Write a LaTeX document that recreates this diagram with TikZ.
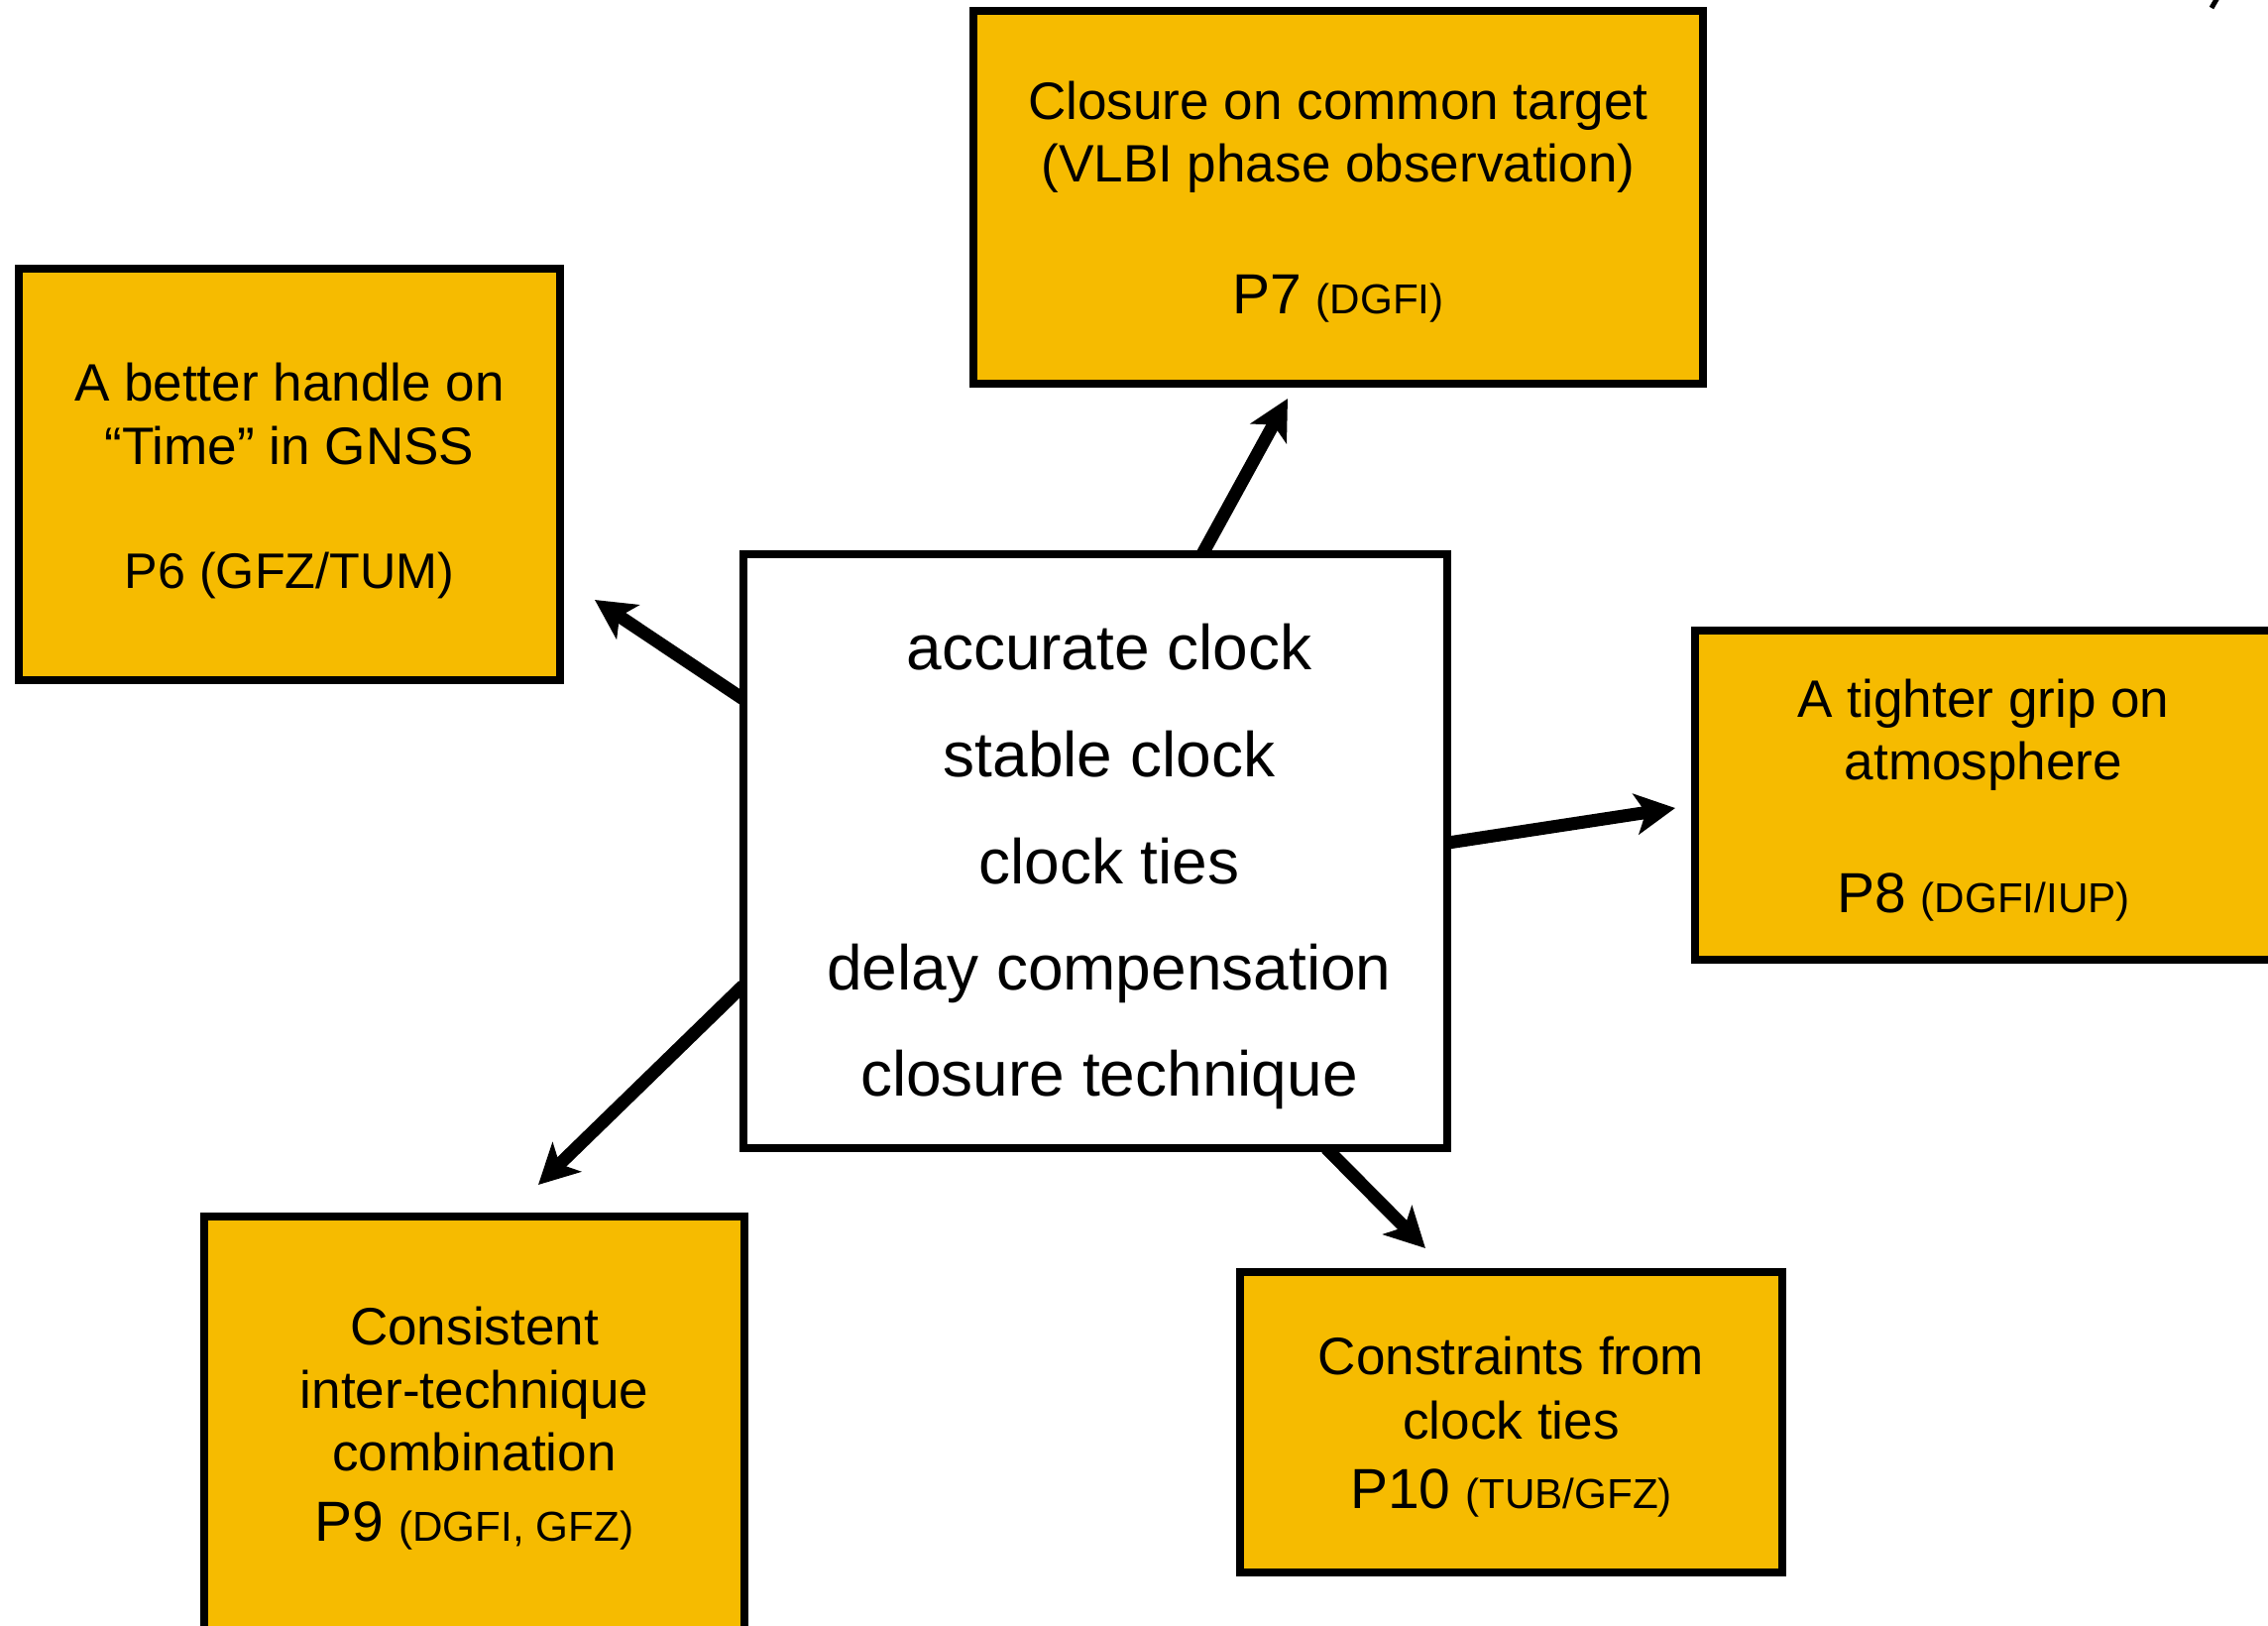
\documentclass[tikz,border=0pt]{standalone}
\usepackage{fontspec}
\setmainfont{Liberation Sans}
\usetikzlibrary{arrows.meta,calc,backgrounds}
\definecolor{boxfill}{RGB}{246,187,0}
\newcommand{\fsbase}{\fontsize{15.1pt}{18pt}\selectfont}
\newcommand{\fsctr}{\fontsize{18.2pt}{22pt}\selectfont}
\newcommand{\fsbig}{\fontsize{16.2pt}{19pt}\selectfont}
\newcommand{\fssmall}{\fontsize{12pt}{14pt}\selectfont}
\newcommand{\fssix}{\fontsize{14.3pt}{17pt}\selectfont}
\begin{document}
\begin{tikzpicture}[x=0.01cm,y=-0.01cm,
  pbox/.style={draw=black, fill=boxfill, line width=0.08cm, rectangle, inner sep=0pt, outer sep=0pt},
  cbox/.style={draw=black, fill=white, line width=0.08cm, rectangle, inner sep=0pt, outer sep=0pt},
  txt/.style={anchor=base, inner sep=0pt, outer sep=0pt, font=\fsbase},
  ctxt/.style={anchor=base, inner sep=0pt, outer sep=0pt, font=\fsctr},
  conn/.style={line width=0.13cm, -{Stealth[length=0.4cm,width=0.41cm,inset=0.1cm]}}
]
\useasboundingbox (0,0) rectangle (2288,1639);
\clip (0,0) rectangle (2288,1639);

% boxes
\node[pbox, minimum width=7.36cm, minimum height=3.76cm] (p7) at (1350,199) {};
\node[pbox, minimum width=5.46cm, minimum height=4.15cm] (p6) at (292,478.5) {};
\node[cbox, minimum width=7.10cm, minimum height=5.99cm] (c) at (1105,858.5) {};
\node[pbox, minimum width=6.00cm, minimum height=3.32cm] (p8) at (2010,802) {};
\node[pbox, minimum width=5.45cm, minimum height=4.40cm] (p9) at (478.5,1447) {};
\node[pbox, minimum width=5.47cm, minimum height=3.03cm] (p10) at (1524.5,1434.5) {};

% P7 text
\node[txt] (t7a) at (1350,120) {Closure on common target};
\node[txt] (t7b) at (1350,183.3) {(VLBI phase observation)};
\node[txt] (t7c) at (1350,316.7) {{\fsbig P7} {\fssmall (DGFI)}};

% P6 text
\node[txt] (t6a) at (292,404) {A better handle on};
\node[txt] (t6b) at (292,468.3) {“Time” in GNSS};
\node[txt, font=\fssix] (t6c) at (292,593.3) {P6 (GFZ/TUM)};

% center text
\node[ctxt] (ca) at (1119,675.5) {accurate clock};
\node[ctxt] (cb) at (1119,783.7) {stable clock};
\node[ctxt] (cc) at (1119,891) {clock ties};
\node[ctxt] (cd) at (1119,998) {delay compensation};
\node[ctxt] (ce) at (1119,1105.3) {closure technique};

% P8 text
\node[txt] (t8a) at (2001,723.3) {A tighter grip on};
\node[txt] (t8b) at (2001,786.7) {atmosphere};
\node[txt] (t8c) at (2001,920) {{\fsbig P8} {\fssmall (DGFI/IUP)}};

% P9 text
\node[txt] (t9a) at (478.5,1356.4) {Consistent};
\node[txt] (t9b) at (478.5,1420) {inter-technique};
\node[txt] (t9c) at (478.5,1483.8) {combination};
\node[txt] (t9d) at (478.5,1554) {{\fsbig P9} {\fssmall (DGFI, GFZ)}};

% P10 text
\node[txt] (t10a) at (1524.5,1386.7) {Constraints from};
\node[txt] (t10b) at (1524.5,1451.7) {clock ties};
\node[txt] (t10c) at (1524.5,1521.7) {{\fsbig P10} {\fssmall (TUB/GFZ)}};

% arrow tips
\coordinate (a7) at (1299,402);
\coordinate (a6) at (600,605);
\coordinate (a8) at (1690,815);
\coordinate (a9) at (543,1195);
\coordinate (a10) at (1438,1259);

\begin{pgfonlayer}{background}
\draw[conn] ($(c.north west)!0.652!(c.north east)$) -- (a7);
\draw[conn] ($(c.north west)!0.244!(c.south west)$) -- (a6);
\draw[conn] ($(c.north east)!0.486!(c.south east)$) -- (a8);
\draw[conn] ($(c.north west)!0.726!(c.south west)$) -- (a9);
\draw[conn] ($(c.south west)!0.828!(c.south east)$) -- (a10);
\end{pgfonlayer}

% cut-off mark at the top right edge
\draw[line width=0.05cm] (2238,-4) -- (2231,8);
\end{tikzpicture}
\end{document}
